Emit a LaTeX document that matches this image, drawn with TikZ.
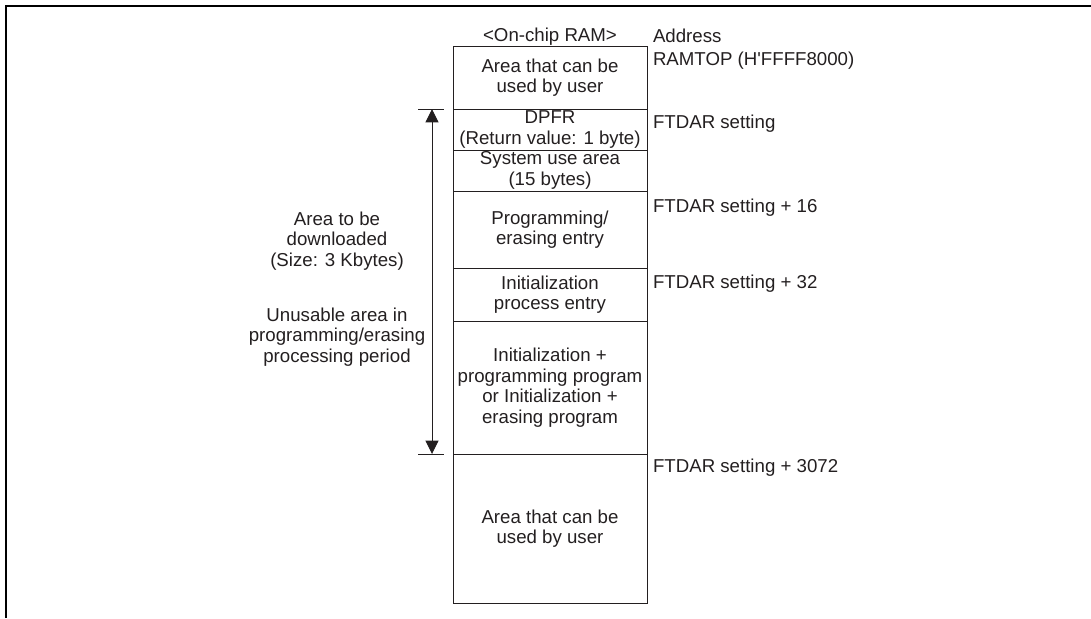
\documentclass[tikz,border=0pt]{standalone}
\usepackage{fontspec}
\setmainfont{Liberation Sans}[Ligatures=TeXOff]
\usetikzlibrary{arrows.meta}
\definecolor{ink}{HTML}{231F20}
\begin{document}
\begin{tikzpicture}[x=0.75pt,y=-0.75pt,
  every node/.style={font=\fontsize{14pt}{15.4pt}\selectfont, text=ink, inner sep=0pt, outer sep=0pt},
  region/.style={draw=ink, line width=0.75pt, minimum width=145.5pt, align=center, anchor=north},
  addr/.style={anchor=base west},
  side/.style={align=center},
  frameline/.style={draw=black, line width=1.5pt},
  tick/.style={draw=ink, line width=0.75pt},
  span/.style={draw=ink, line width=0.75pt, {Triangle[width=9.75pt,length=10pt]}-{Triangle[width=9.75pt,length=10pt]}}
]
\useasboundingbox (0,0) rectangle (1091,618);
\draw[frameline] (6,618) -- (6,6) -- (1091,6);

% memory map regions
\node[region, minimum height=47.25pt] (r1) at (550,46) {Area that can be\\used by user};
\node[region, minimum height=30.75pt] (r2) at (r1.south) {DPFR\\(Return value: 1 byte)};
\node[region, minimum height=30.75pt] (r3) at (r2.south) {System use area\\(15 bytes)};
\node[region, minimum height=57.75pt] (r4) at (r3.south) {Programming/\\erasing entry};
\node[region, minimum height=39.75pt] (r5) at (r4.south) {Initialization\\process entry};
\node[region, minimum height=99.75pt] (r6) at (r5.south) {Initialization +\\programming program\\or Initialization +\\erasing program};
\node[region, minimum height=111.75pt] (r7) at (r6.south) {Area that can be\\used by user};

% header
\node[anchor=base] (hdr) at (550,41) {<On-chip RAM>};

% addresses
\node[addr] (a0) at (653,42) {Address};
\node[addr] (a1) at (653,65) {RAMTOP (H'FFFF8000)};
\node[addr] (a2) at (653,128) {FTDAR setting};
\node[addr] (a3) at (653,212) {FTDAR setting + 16};
\node[addr] (a4) at (653,288) {FTDAR setting + 32};
\node[addr] (a5) at (653,472) {FTDAR setting + 3072};

% download span
\coordinate (t1l) at (418,109);
\coordinate (t1r) at (444,109);
\coordinate (t2l) at (418,454);
\coordinate (t2r) at (444,454);
\coordinate (atop) at (432,109);
\coordinate (abot) at (432,454);
\draw[tick] (t1l) -- (t1r);
\draw[tick] (t2l) -- (t2r);
\draw[span] (atop) -- (abot);

% side notes
\node[side] (s1) at (337,241) {Area to be\\downloaded\\(Size: 3 Kbytes)};
\node[side] (s2) at (337,337) {Unusable area in\\programming/erasing\\processing period};
\end{tikzpicture}
\end{document}
